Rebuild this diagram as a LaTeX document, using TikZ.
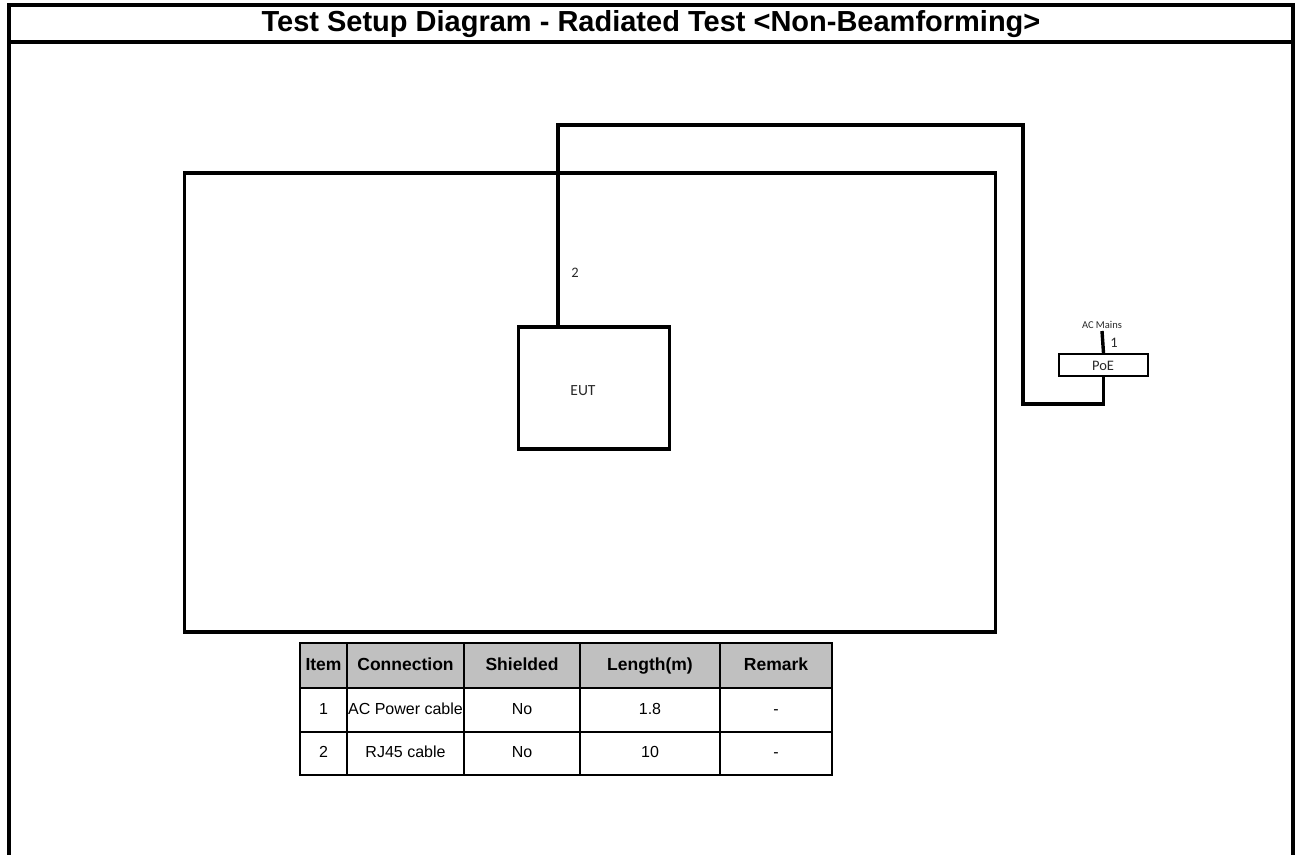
\documentclass[tikz,border=0pt]{standalone}
\usepackage{fontspec}
\setmainfont{Liberation Sans}
\newfontfamily\calfont{Carlito}
\definecolor{hdrgray}{RGB}{192,192,192}
\definecolor{lblgray}{RGB}{40,40,40}
\begin{document}
\begin{tikzpicture}[x=1pt,y=-1pt,
  frame/.style={line width=3.4pt},
  cable/.style={line width=3.4pt},
  box/.style={draw,line width=3.4pt,inner sep=0pt},
  thinbox/.style={draw,line width=1.8pt,inner sep=0pt},
  lbl/.style={font=\calfont\fontsize{14.5}{16}\selectfont,text=lblgray,inner sep=0pt},
  hcell/.style={draw,line width=2.8pt,fill=hdrgray,inner sep=0pt,text height=12.5pt,text depth=3.5pt,font=\bfseries\fontsize{17.5}{20}\selectfont},
  cell/.style={draw,line width=2.8pt,inner sep=0pt,text height=12pt,text depth=3.5pt,font=\fontsize{16}{19}\selectfont}
]
\useasboundingbox (0,0) rectangle (1300,854);
% outer frame
\draw[frame] (9,858) -- (9,5) -- (1293,5) -- (1293,858);
\draw[frame] (9,42) -- (1293,42);
\node[font=\bfseries\fontsize{29}{32}\selectfont,inner sep=0pt] (title) at (651,24) {Test Setup Diagram - Radiated Test <Non-Beamforming>};
% big room rectangle
\node[box,minimum width=811pt,minimum height=459pt] (room) at (590,402.5) {};
% EUT
\node[box,minimum width=151pt,minimum height=122pt] (eut) at (594,388) {};
\node[lbl,font=\calfont\fontsize{15.5}{17}\selectfont] (eutl) at (583,391) {EUT};
% PoE
\node[thinbox,minimum width=89pt,minimum height=22pt] (poe) at (1103.5,365) {};
\node[lbl] (poel) at (1103,365.5) {PoE};
\coordinate (e2) at (558,328);
\coordinate (tr) at (1023,125);
\coordinate (br) at (1023,404);
\draw[cable] (e2) |- (tr) -- (br) -| (poe.south);
\node[lbl] (n2) at (575,273) {2};
\coordinate (acm) at (1102,331);
\draw[cable] (poe.north) -- (acm);
\node[lbl] (n1) at (1114,343) {1};
\node[lbl,font=\calfont\fontsize{10.5}{12}\selectfont] (acl) at (1102,325) {AC Mains};
% table
\foreach \xa/\xb/\t [count=\i] in {300/347/Item,347/464/Connection,464/580/Shielded,580/720/Length(m),720/832/Remark}{
  \node[hcell,minimum width=\xb pt-\xa pt,minimum height=45pt] (h\i) at ({(\xa+\xb)/2},665.5) {\t};
}
\foreach \xa/\xb/\t [count=\i] in {300/347/1,347/464/AC Power cable,464/580/No,580/720/1.8,720/832/-}{
  \node[cell,minimum width=\xb pt-\xa pt,minimum height=44pt] (a\i) at ({(\xa+\xb)/2},710) {\t};
}
\foreach \xa/\xb/\t [count=\i] in {300/347/2,347/464/RJ45 cable,464/580/No,580/720/10,720/832/-}{
  \node[cell,minimum width=\xb pt-\xa pt,minimum height=43pt] (b\i) at ({(\xa+\xb)/2},753.5) {\t};
}
\end{tikzpicture}
\end{document}
